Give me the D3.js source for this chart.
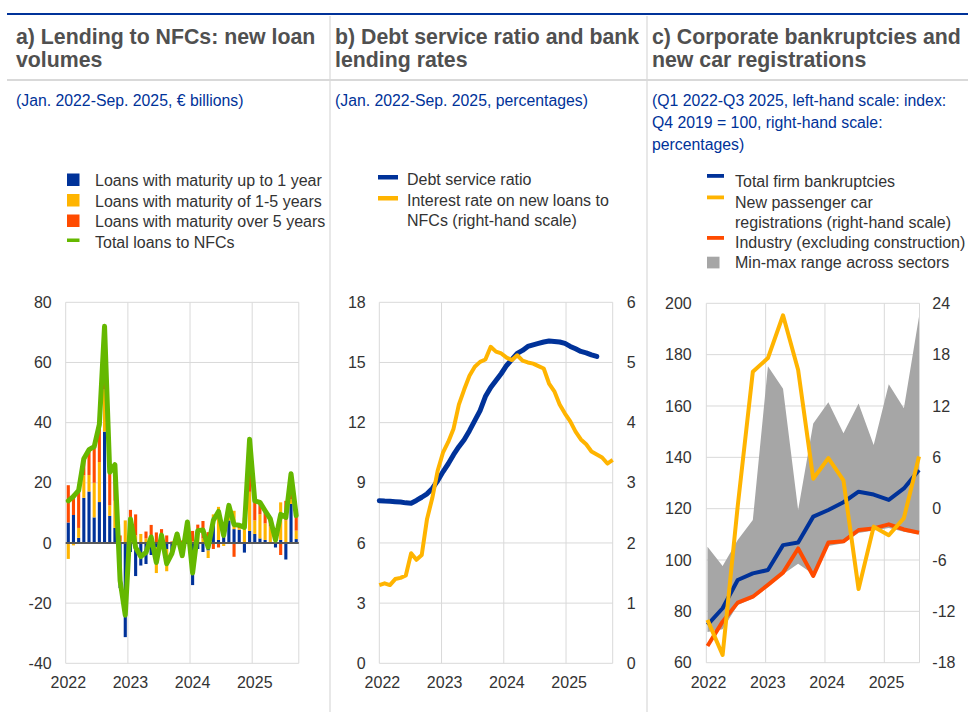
<!DOCTYPE html>
<html><head><meta charset="utf-8">
<script src="https://cdn.jsdelivr.net/npm/d3@7"></script>
<style>
body{margin:0;background:#fff}
svg{display:block;font-family:"Liberation Sans",Arial,Helvetica,sans-serif}
</style></head>
<body><svg width="968" height="712"></svg>
<script>
// ---------------- DATA ----------------
// Panel a: monthly, Jan 2022 - Sep 2025 (€ billions)
const monthLabels = [];
for (let y = 2022; y <= 2025; y++) for (let m = 1; m <= 12; m++) if (!(y === 2025 && m > 9)) monthLabels.push(y + "-" + String(m).padStart(2, "0"));
const loansUpTo1Y = [6.8,9.3,1.7,15.0,17.1,8.5,13.6,37.0,9.0,5.0,-15.0,-31.3,
  -3.0,-11.0,-7.5,-7.0,-4.0,-1.5,-2.0,-2.0,-4.0,1.0,-4.0,3.5,
  -14.0,-2.0,-3.0,-2.5,8.5,1.0,2.0,7.5,4.6,4.4,-3.2,4.0,
  3.0,1.5,1.0,0.0,-1.5,1.0,-5.5,13.0,1.3];
const loans1to5Y = [-5.3,-0.8,3.3,7.5,5.5,11.5,13.3,14.0,3.5,9.0,0.5,7.5,
  6.0,2.5,3.0,1.5,1.0,-8.5,0.3,-7.4,0.0,1.5,-1.0,2.0,
  0.5,2.5,1.5,-2.5,1.0,11.0,-1.0,4.0,6.1,0.5,6.5,13.0,
  4.5,8.0,5.5,5.5,2.5,12.5,7.5,1.5,2.8];
const loansOver5Y = [12.4,7.0,12.5,5.5,8.4,12.0,12.5,21.0,11.0,12.0,2.0,0.0,
  5.0,7.0,0.0,2.3,5.0,3.5,4.3,2.5,0.5,0.5,0.8,1.5,
  3.5,3.6,5.8,3.6,-2.0,-1.5,1.5,1.0,-4.6,1.0,1.9,17.5,
  6.5,4.0,4.2,2.5,0.0,-4.0,6.5,8.5,5.0];
const totalLoans = [14,15.5,17.5,28,31,32,39.4,72,23.5,26,-12.5,-24,
  8,-1.5,-4.5,-3.2,2,-6.5,2.6,-6.9,-3.5,3,-4.2,7,
  -10,4.1,4.3,-1.4,7.5,10.5,2.5,12.5,6.1,5.9,5.2,34.5,
  14,13.5,10.7,8,1,9.5,8.5,23,9.1];
const yTicksA = [-40,-20,0,20,40,60,80];
const yearLabels = ["2022","2023","2024","2025"];

// Panel b: monthly, percentages
const debtServiceRatio = [8.11,8.09,8.08,8.06,8.04,8.0,7.98,8.12,8.28,8.45,8.72,9.1,
  9.55,9.95,10.4,10.8,11.15,11.6,12.1,12.6,13.3,13.75,14.1,14.45,
  14.85,15.15,15.45,15.6,15.8,15.88,15.95,16.02,16.07,16.05,16.02,15.95,
  15.8,15.68,15.55,15.48,15.38,15.3];
const lendingRate = [1.30,1.33,1.30,1.40,1.42,1.46,1.83,1.72,1.80,2.40,2.75,3.2,
  3.5,3.68,3.9,4.3,4.55,4.78,4.93,5.01,5.05,5.26,5.18,5.15,
  5.08,5.04,5.12,5.03,5.0,4.98,4.94,4.9,4.65,4.52,4.3,4.15,
  4.02,3.85,3.72,3.64,3.52,3.47,3.42,3.32,3.38];
const yTicksBL = [0,3,6,9,12,15,18];
const yTicksBR = [0,1,2,3,4,5,6];

// Panel c: quarterly, Q1 2022 - Q3 2025
const quarters = ["Q1 2022","Q2 2022","Q3 2022","Q4 2022","Q1 2023","Q2 2023","Q3 2023","Q4 2023",
  "Q1 2024","Q2 2024","Q3 2024","Q4 2024","Q1 2025","Q2 2025","Q3 2025"];
const totalBankruptcies = [74.7,81.2,92.2,94.8,96.1,105.8,106.8,116.9,119.5,122.5,126.6,125.5,123.4,127.9,135.1];
const industryBankruptcies = [66.5,76.0,83.4,85.7,90.3,95.1,104.5,93.8,106.8,107.3,111.7,112.3,113.9,111.9,110.6];
const carRegistrations = [-13.0,-17.1,0.3,16.0,17.6,22.6,16.2,3.5,5.9,3.3,-9.4,-2.1,-3.1,-1.1,6.1];
const sectorMax = [105.2,97.7,107.8,115.6,175.5,166.7,119.5,153.2,161.5,149.4,161.0,144.8,168.5,159.1,194.8];
const sectorMin = [72,73,82.5,85,89.5,94.5,98.5,94.5,105.5,106.5,110.5,111.5,112.5,111,110];
const yTicksCL = [60,80,100,120,140,160,180,200];
const yTicksCR = [-18,-12,-6,0,6,12,18,24];

// ---------------- STYLE ----------------
const C = {blue:"#003299", yellow:"#ffb400", red:"#ff4b00", green:"#65b800", gray:"#a6a6a6",
  grid:"#d9d9d9", text:"#333333", title:"#505050", sub:"#003299"};

const svg = d3.select("svg");

// frame lines
svg.append("line").attr("x1",7).attr("x2",968).attr("y1",14).attr("y2",14).attr("stroke",C.blue).attr("stroke-width",2);
svg.append("line").attr("x1",7).attr("x2",968).attr("y1",80).attr("y2",80).attr("stroke",C.grid).attr("stroke-width",2);
[330,647].forEach(x=>svg.append("line").attr("x1",x).attr("x2",x).attr("y1",16).attr("y2",712).attr("stroke",C.grid).attr("stroke-width",1.2));

function multiText(g, x, y0, lines, lh, attrs){
  lines.forEach((t,i)=>{
    const tx = g.append("text").attr("x",x).attr("y",y0+i*lh).text(t);
    Object.entries(attrs).forEach(([k,v])=>tx.attr(k,v));
  });
}
const titleAttr = {"font-size":"21.3px","font-weight":"bold","fill":C.title};
const subAttr = {"font-size":"15.8px","fill":C.sub};
const legAttr = {"font-size":"16px","fill":C.text};

multiText(svg,16,44,["a) Lending to NFCs: new loan","volumes"],23,titleAttr);
multiText(svg,335,44,["b) Debt service ratio and bank","lending rates"],23,titleAttr);
multiText(svg,652,44,["c) Corporate bankruptcies and","new car registrations"],23,titleAttr);
multiText(svg,16,106,["(Jan. 2022-Sep. 2025, € billions)"],22,subAttr);
multiText(svg,335,106,["(Jan. 2022-Sep. 2025, percentages)"],22,subAttr);
multiText(svg,652,106,["(Q1 2022-Q3 2025, left-hand scale: index:","Q4 2019 = 100, right-hand scale:","percentages)"],22,subAttr);

// ---------------- PANEL A ----------------
const gA = svg.append("g");
const xA = d3.scaleLinear().domain([0,45]).range([65.7,298.8]);
const yA = d3.scaleLinear().domain([-40,80]).range([663.3,302.3]);
yTicksA.forEach(t=>{
  gA.append("line").attr("x1",xA(0)).attr("x2",xA(45)).attr("y1",yA(t)).attr("y2",yA(t)).attr("stroke",C.grid);
  gA.append("text").attr("x",51.7).attr("y",yA(t)).attr("dy","0.35em").attr("text-anchor","end")
    .attr("font-size","16px").attr("fill",C.text).text(t);
});
[0,12,24,36,45].forEach(m=>gA.append("line").attr("x1",xA(m)).attr("x2",xA(m)).attr("y1",yA(80)).attr("y2",yA(-40)).attr("stroke",C.grid));
yearLabels.forEach((l,i)=>gA.append("text").attr("x",xA(i*12+0.5)).attr("y",688).attr("text-anchor","middle")
  .attr("font-size","16px").attr("fill",C.text).text(l));

const rowsA = monthLabels.map((m,i)=>({i, s:loansUpTo1Y[i], m:loans1to5Y[i], l:loansOver5Y[i]}));
const stack = d3.stack().keys(["s","m","l"]).offset(d3.stackOffsetDiverging)(rowsA);
const barColors = {s:C.blue, m:C.yellow, l:C.red};
stack.forEach(layer=>{
  gA.append("g").attr("fill",barColors[layer.key]).selectAll("rect").data(layer).join("rect")
    .attr("x",d=>xA(d.data.i+0.2)).attr("width",xA(0.6)-xA(0))
    .attr("y",d=>yA(Math.max(d[0],d[1]))).attr("height",d=>Math.abs(yA(d[0])-yA(d[1])));
});
gA.append("line").attr("x1",xA(0)).attr("x2",xA(45)).attr("y1",yA(0)).attr("y2",yA(0)).attr("stroke","#595959").attr("stroke-width",2);
gA.append("path").datum(totalLoans).attr("fill","none").attr("stroke",C.green).attr("stroke-width",5)
  .attr("stroke-linejoin","round").attr("stroke-linecap","round")
  .attr("d",d3.line().x((d,i)=>xA(i+0.5)).y(d=>yA(d)));

// legend a
const legA = [["sq",C.blue,"Loans with maturity up to 1 year"],["sq",C.yellow,"Loans with maturity of 1-5 years"],
  ["sq",C.red,"Loans with maturity over 5 years"],["ln",C.green,"Total loans to NFCs"]];
legA.forEach((d,i)=>{
  const yb = 186 + i*20.5;
  if(d[0]==="sq") gA.append("rect").attr("x",67).attr("y",yb-12.5).attr("width",12.5).attr("height",12.5).attr("fill",d[1]);
  else gA.append("rect").attr("x",67).attr("y",yb-9).attr("width",12.5).attr("height",3.5).attr("fill",d[1]);
  gA.append("text").attr("x",95).attr("y",yb).attr("font-size","16px").attr("fill",C.text).text(d[2]);
});

// ---------------- PANEL B ----------------
const gB = svg.append("g");
const xBgrid = d3.scaleLinear().domain([0,45]).range([379.3,612.7]);
const xB = d3.scaleLinear().domain([0,44]).range([379.3,612.7]);
const yBL = d3.scaleLinear().domain([0,18]).range([663.3,302.3]);
const yBR = d3.scaleLinear().domain([0,6]).range([663.3,302.3]);
yTicksBL.forEach((t,k)=>{
  gB.append("line").attr("x1",xBgrid(0)).attr("x2",xBgrid(45)).attr("y1",yBL(t)).attr("y2",yBL(t)).attr("stroke",C.grid);
  gB.append("text").attr("x",365.7).attr("y",yBL(t)).attr("dy","0.35em").attr("text-anchor","end")
    .attr("font-size","16px").attr("fill",C.text).text(t);
  gB.append("text").attr("x",626.7).attr("y",yBR(yTicksBR[k])).attr("dy","0.35em").attr("text-anchor","start")
    .attr("font-size","16px").attr("fill",C.text).text(yTicksBR[k]);
});
[0,12,24,36,45].forEach(m=>gB.append("line").attr("x1",xBgrid(m)).attr("x2",xBgrid(m)).attr("y1",yBL(18)).attr("y2",yBL(0)).attr("stroke",C.grid));
yearLabels.forEach((l,i)=>gB.append("text").attr("x",xBgrid(i*12+0.6)).attr("y",688).attr("text-anchor","middle")
  .attr("font-size","16px").attr("fill",C.text).text(l));
gB.append("path").datum(debtServiceRatio).attr("fill","none").attr("stroke",C.blue).attr("stroke-width",5)
  .attr("stroke-linejoin","round").attr("stroke-linecap","round")
  .attr("d",d3.line().x((d,i)=>xB(i)).y(d=>yBL(d)));
gB.append("path").datum(lendingRate).attr("fill","none").attr("stroke",C.yellow).attr("stroke-width",4)
  .attr("stroke-linejoin","round")
  .attr("d",d3.line().x((d,i)=>xB(i)).y(d=>yBR(d)));
// legend b
gB.append("rect").attr("x",378).attr("y",175).attr("width",20).attr("height",4.5).attr("fill",C.blue);
gB.append("text").attr("x",407).attr("y",185).attr("font-size","16px").attr("fill",C.text).text("Debt service ratio");
gB.append("rect").attr("x",378).attr("y",196).attr("width",20).attr("height",4.5).attr("fill",C.yellow);
multiText(gB,407,206,["Interest rate on new loans to","NFCs (right-hand scale)"],19.5,legAttr);

// ---------------- PANEL C ----------------
const gC = svg.append("g");
const xC = d3.scaleLinear().domain([0,14]).range([707.5,919]);
const xCy = d3.scaleLinear().domain([2022,2025]).range([706.3,884.3]);
const plotRightC = 919.5;
const yCL = d3.scaleLinear().domain([60,200]).range([662.7,303.3]);
const yCR = d3.scaleLinear().domain([-18,24]).range([662.7,303.3]);
yTicksCL.forEach((t,k)=>{
  gC.append("line").attr("x1",xCy(2022)).attr("x2",plotRightC).attr("y1",yCL(t)).attr("y2",yCL(t)).attr("stroke",C.grid);
  gC.append("text").attr("x",691.7).attr("y",yCL(t)).attr("dy","0.35em").attr("text-anchor","end")
    .attr("font-size","16px").attr("fill",C.text).text(t);
  gC.append("text").attr("x",932.3).attr("y",yCR(yTicksCR[k])).attr("dy","0.35em").attr("text-anchor","start")
    .attr("font-size","16px").attr("fill",C.text).text(yTicksCR[k]);
});
[2022,2023,2024,2025].forEach(y=>gC.append("line").attr("x1",xCy(y)).attr("x2",xCy(y)).attr("y1",yCL(200)).attr("y2",yCL(60)).attr("stroke",C.grid));
gC.append("line").attr("x1",plotRightC).attr("x2",plotRightC).attr("y1",yCL(200)).attr("y2",yCL(60)).attr("stroke",C.grid);
yearLabels.forEach((l,i)=>gC.append("text").attr("x",xCy(2022+i)+2.2).attr("y",688).attr("text-anchor","middle")
  .attr("font-size","16px").attr("fill",C.text).text(l));
gC.append("path").datum(quarters.map((q,i)=>i)).attr("fill",C.gray)
  .attr("d",d3.area().x(i=>xC(i)).y0(i=>yCL(sectorMin[i])).y1(i=>yCL(sectorMax[i])));
const lineC = (arr, y, col, w)=>gC.append("path").datum(arr).attr("fill","none").attr("stroke",col).attr("stroke-width",w)
  .attr("stroke-linejoin","round").attr("d",d3.line().x((d,i)=>xC(i)).y(d=>y(d)));
lineC(industryBankruptcies, yCL, C.red, 4);
lineC(totalBankruptcies, yCL, C.blue, 4);
lineC(carRegistrations, yCR, C.yellow, 4);
// legend c
gC.append("rect").attr("x",707).attr("y",174).attr("width",17).attr("height",3.8).attr("fill",C.blue);
gC.append("text").attr("x",735).attr("y",186.5).attr("font-size","16px").attr("fill",C.text).text("Total firm bankruptcies");
gC.append("rect").attr("x",707).attr("y",195.5).attr("width",17).attr("height",3.8).attr("fill",C.yellow);
multiText(gC,735,207.5,["New passenger car","registrations (right-hand scale)"],20,legAttr);
gC.append("rect").attr("x",707).attr("y",236).attr("width",17).attr("height",3.8).attr("fill",C.red);
gC.append("text").attr("x",735).attr("y",247.5).attr("font-size","16px").attr("fill",C.text).text("Industry (excluding construction)");
gC.append("rect").attr("x",707).attr("y",256.7).attr("width",12.5).attr("height",11.7).attr("fill",C.gray);
gC.append("text").attr("x",735).attr("y",268).attr("font-size","16px").attr("fill",C.text).text("Min-max range across sectors");
</script></body></html>
